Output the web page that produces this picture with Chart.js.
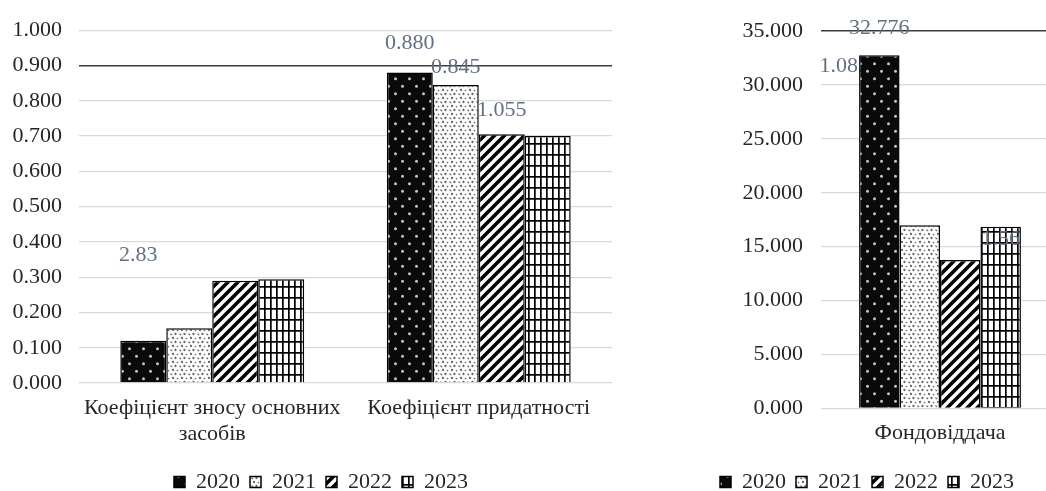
<!DOCTYPE html>
<html>
<head>
<meta charset="utf-8">
<script src="https://cdn.jsdelivr.net/npm/chart.js@4.4.1/dist/chart.umd.min.js"></script>
<style>
  html, body { margin: 0; padding: 0; background: #fff; overflow: hidden; width: 1046px; height: 491px; }
  #left { position: absolute; left: 0; top: 0; width: 640px; height: 503px; }
  #right { position: absolute; left: 675px; top: 0; width: 385px; height: 503px; }
</style>
</head>
<body>
<div id="left"><canvas id="chart1"></canvas></div>
<div id="right"><canvas id="chart2"></canvas></div>
<script>
// ---- data ----
var years = ['2020', '2021', '2022', '2023'];

var leftCategories = [['Коефіцієнт зносу основних', 'засобів'], 'Коефіцієнт придатності'];
var left2020 = [0.120, 0.880];
var left2021 = [0.155, 0.845];
var left2022 = [0.290, 0.705];
var left2023 = [0.294, 0.700];
var leftTickMax = 1.0;
var leftTickStep = 0.1;

var rightCategories = ['Фондовіддача'];
var right2020 = [32.776];
var right2021 = [17.0];
var right2022 = [13.76];
var right2023 = [16.85];
var rightTickMax = 35;
var rightTickStep = 5;

// stray data labels left on the picture (text, series, category, height in axis units)
var leftStrayText = ['2.83', '0.880', '0.845', '1.055'];
var leftStraySeries = [0, 0, 1, 2];
var leftStrayCat = [0, 1, 1, 1];
var leftStrayValue = [0.361, 0.962, 0.895, 0.772];

var rightStrayText = ['32.776', '1.085', '1.56'];
var rightStraySeries = [0, 0, 3];
var rightStrayCat = [0, 0, 0];
var rightStrayValue = [35.28, 31.75, 15.7];

// ---- patterns ----
function makePattern(kind) {
  var c = document.createElement('canvas');
  var g = c.getContext('2d');
  if (kind === 'dots') {
    c.width = 14; c.height = 15;
    g.fillStyle = '#0a0a0a'; g.fillRect(0, 0, 14, 15);
    g.fillStyle = '#c4c4c4';
    g.beginPath(); g.arc(3.5, 3.75, 1.5, 0, Math.PI * 2); g.fill();
    g.beginPath(); g.arc(10.5, 11.25, 1.5, 0, Math.PI * 2); g.fill();
  } else if (kind === 'speckle') {
    c.width = 9; c.height = 8;
    g.fillStyle = '#fff'; g.fillRect(0, 0, 9, 8);
    g.fillStyle = '#666';
    [[2, 2, 1.15], [6.5, 2.5, 0.85], [4.5, 6, 1.15], [0.5, 6.5, 0.85], [8.5, 6, 0.6]].forEach(function (d) {
      g.beginPath(); g.arc(d[0], d[1], d[2], 0, Math.PI * 2); g.fill();
    });
  } else if (kind === 'diag') {
    c.width = 10; c.height = 10;
    g.fillStyle = '#fff'; g.fillRect(0, 0, 10, 10);
    g.strokeStyle = '#000'; g.lineWidth = 3.6; g.lineCap = 'square';
    g.beginPath();
    g.moveTo(-2, 12); g.lineTo(12, -2);
    g.moveTo(-7, 7); g.lineTo(7, -7);
    g.moveTo(3, 17); g.lineTo(17, 3);
    g.stroke();
  } else {
    c.width = 6; c.height = 11;
    g.fillStyle = '#fff'; g.fillRect(0, 0, 6, 11);
    g.fillStyle = '#000';
    g.fillRect(0, 0, 1.7, 11);
    g.fillRect(0, 0, 6, 1.7);
  }
  return g.createPattern(c, 'repeat');
}
var fills = [makePattern('dots'), makePattern('speckle'), makePattern('diag'), makePattern('grid')];

// ---- shared ----
var FONT = 'Liberation Serif';
var TEXT = '#262626';

var strayLabels = {
  id: 'strayLabels',
  beforeDatasetsDraw: function (chart, args, opts) { drawStray(chart, opts, true); },
  afterDatasetsDraw: function (chart, args, opts) { drawStray(chart, opts, false); }
};
function drawStray(chart, opts, under) {
  var ctx = chart.ctx;
  ctx.save();
  ctx.font = '22px "' + FONT + '"';
  ctx.fillStyle = '#627084';
  ctx.textAlign = 'center';
  ctx.textBaseline = 'middle';
  opts.text.forEach(function (t, i) {
    if (!!opts.under[i] !== under) return;
    var bar = chart.getDatasetMeta(opts.series[i]).data[opts.cat[i]];
    var x = bar.x + (opts.shift[i] || 0);
    var y = chart.scales.y.getPixelForValue(opts.value[i]);
    ctx.fillText(t, x, y);
  });
  ctx.restore();
}

// move the legend band sideways (it is centred under the whole picture, not the canvas)
var legendShift = {
  id: 'legendShift',
  afterLayout: function (chart, args, opts) {
    if (!chart.legend || !opts.by) return;
    chart.legend.left += opts.by;
    chart.legend.right += opts.by;
  }
};

function buildChart(id, cats, series, max, step, darkTick, catPct, yWidth, tickPad, xHeight, pad, shiftBy, stray) {
  var datasets = series.map(function (vals, i) {
    return {
      label: years[i],
      data: vals,
      backgroundColor: fills[i],
      borderColor: '#000',
      borderWidth: 1.5,
      barPercentage: 1,
      categoryPercentage: catPct
    };
  });
  return new Chart(document.getElementById(id), {
    type: 'bar',
    data: { labels: cats, datasets: datasets },
    plugins: [strayLabels, legendShift],
    options: {
      responsive: true,
      maintainAspectRatio: false,
      animation: false,
      layout: { padding: pad },
      plugins: {
        tooltip: { enabled: false },
        legend: {
          position: 'bottom',
          labels: {
            boxWidth: 11, boxHeight: 11, padding: 10,
            color: TEXT,
            font: { family: FONT, size: 22 }
          }
        },
        legendShift: { by: shiftBy },
        strayLabels: stray
      },
      scales: {
        x: {
          grid: { display: false, drawTicks: false },
          border: { display: false },
          ticks: {
            color: TEXT, padding: 12, maxRotation: 0, autoSkip: false,
            font: { family: FONT, size: 22, lineHeight: 1.18 }
          },
          afterFit: function (s) { s.height = xHeight; }
        },
        y: {
          min: 0, max: max,
          border: { display: false },
          grid: {
            drawTicks: false,
            color: function (c) { return Math.abs(c.tick.value - darkTick) < 1e-6 ? '#3c3c3c' : '#d9d9d9'; },
            lineWidth: function (c) { return Math.abs(c.tick.value - darkTick) < 1e-6 ? 1.6 : 1.3; }
          },
          ticks: {
            stepSize: step, padding: tickPad, color: TEXT,
            font: { family: FONT, size: 22 },
            callback: function (v) { return Number(v).toFixed(3); }
          },
          afterFit: function (s) { s.width = yWidth; }
        }
      }
    }
  });
}

buildChart('chart1', leftCategories, [left2020, left2021, left2022, left2023],
  leftTickMax, leftTickStep, 0.9, 0.69, 79, 17, 78,
  { top: 25, left: 0, right: 28, bottom: 0 }, 15,
  { text: leftStrayText, series: leftStraySeries, cat: leftStrayCat, value: leftStrayValue,
    shift: [-5, 0, 0, 0], under: [false, false, false, false] });

buildChart('chart2', rightCategories, [right2020, right2021, right2022, right2023],
  rightTickMax, rightTickStep, 35, 0.68, 146, 18, 52.7,
  { top: 31, left: 0, right: 1, bottom: 0 }, 0,
  { text: rightStrayText, series: rightStraySeries, cat: rightStrayCat, value: rightStrayValue,
    shift: [0, -35, 0], under: [false, true, false] });
</script>
</body>
</html>
